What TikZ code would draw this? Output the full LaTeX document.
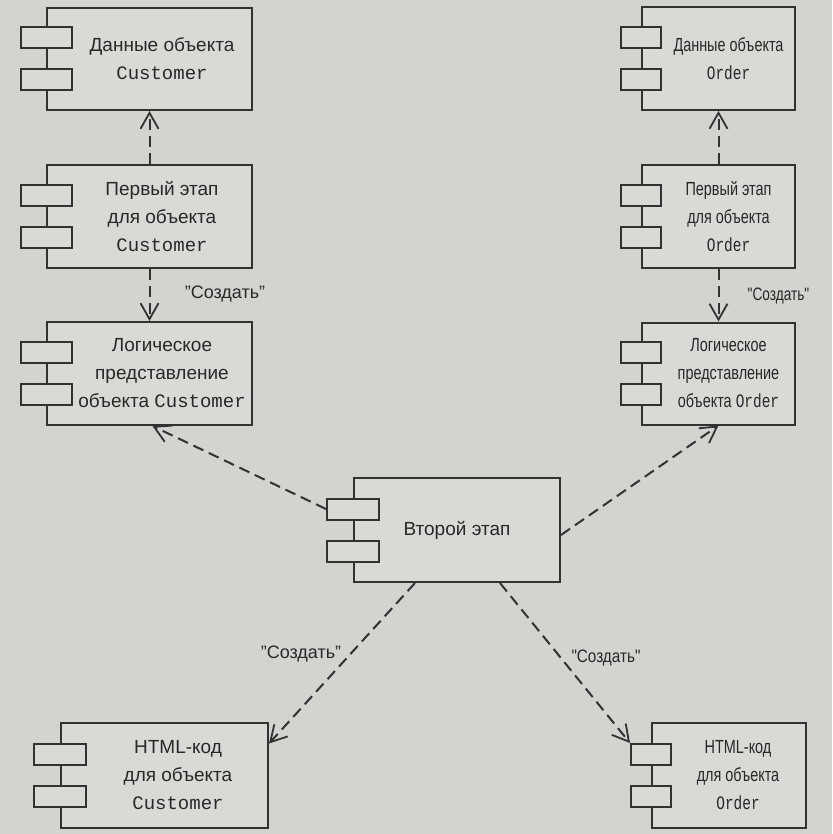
\documentclass[tikz,border=0pt]{standalone}
\usepackage{fontspec}
\setmainfont{Liberation Sans}
\newfontfamily\nsans[FakeStretch=0.76]{Liberation Sans}
\newfontfamily\msans[FakeStretch=0.85]{Liberation Sans}
\newfontfamily\cmono{Liberation Mono}
\newfontfamily\ncmono[FakeStretch=0.76]{Liberation Mono}
\usetikzlibrary{arrows.meta,calc}
\definecolor{paper}{RGB}{211,211,208}
\definecolor{boxfill}{RGB}{217,217,214}
\definecolor{ink}{RGB}{50,50,50}
\definecolor{txtc}{RGB}{40,40,40}
\begin{document}
\begin{tikzpicture}[x=1pt,y=-1pt,
 comp/.style={draw=ink, line width=2pt, fill=boxfill, rectangle, inner sep=0pt},
 tabbox/.style={draw=ink, line width=2pt, fill=boxfill, rectangle, inner sep=0pt, minimum height=21pt},
 txt/.style={align=center, text=txtc, font=\fontsize{19}{28}\selectfont, inner sep=0pt},
 ntxt/.style={align=center, text=txtc, font=\fontsize{19}{28}\nsans, inner sep=0pt},
 dep/.style={draw=ink, line width=2pt, dash pattern=on 11pt off 6pt, -{Straight Barb[length=16pt,width=18pt,line width=1.8pt]}},
 lbl/.style={text=txtc, font=\fontsize{18}{20}\selectfont, inner sep=1pt}]
\fill[paper] (0,0) rectangle (832,834);
\useasboundingbox (0,0) rectangle (832,834);

% components
\node[comp, minimum width=205pt, minimum height=102pt] (c1) at (149.5,59) {};
\node[comp, minimum width=205pt, minimum height=103pt] (c2) at (149.5,216.5) {};
\node[comp, minimum width=205pt, minimum height=103pt] (c3) at (149.5,373.5) {};
\node[comp, minimum width=153pt, minimum height=103pt] (c4) at (718.5,58.5) {};
\node[comp, minimum width=153pt, minimum height=103pt] (c5) at (718.5,216.5) {};
\node[comp, minimum width=153pt, minimum height=102pt] (c6) at (718.5,373.5) {};
\node[comp, minimum width=206pt, minimum height=104pt] (c7) at (457,530) {};
\node[comp, minimum width=207pt, minimum height=105pt] (c8) at (164.5,775.5) {};
\node[comp, minimum width=154pt, minimum height=105pt] (c9) at (729,775.5) {};

% tabs
\foreach \n/\w in {c1/51,c2/51,c3/51,c4/40,c5/40,c6/40,c7/52,c8/52,c9/40}{
  \node[tabbox, minimum width=\w pt] (\n-a) at ([yshift=21pt]\n.west) {};
  \node[tabbox, minimum width=\w pt] (\n-b) at ([yshift=-21pt]\n.west) {};
}

% texts
\node[txt] (t1) at ([xshift=12.5pt]c1.center) {Данные объекта\\{\cmono Customer}};
\node[txt] (t2) at ([xshift=12.5pt]c2.center) {Первый этап\\для объекта\\{\cmono Customer}};
\node[txt] (t3) at ([xshift=12.5pt]c3.center) {Логическое\\представление\\объекта {\cmono Customer}};
\node[ntxt] (t4) at ([xshift=10pt]c4.center) {Данные объекта\\{\ncmono Order}};
\node[ntxt] (t5) at ([xshift=10pt]c5.center) {Первый этап\\для объекта\\{\ncmono Order}};
\node[ntxt] (t6) at ([xshift=10pt]c6.center) {Логическое\\представление\\объекта {\ncmono Order}};
\node[txt] (t7) at (c7.center) {Второй этап};
\node[txt] (t8) at ([xshift=13.5pt]c8.center) {HTML-код\\для объекта\\{\cmono Customer}};
\node[ntxt] (t9) at ([xshift=9pt]c9.center) {HTML-код\\для объекта\\{\ncmono Order}};

% dependencies
\draw[dep] (c2.north) -- (c1.south);
\draw[dep] (c2.south) -- (c3.north);
\draw[dep] (c5.north) -- (c4.south);
\draw[dep] (c5.south) -- (c6.north);
\draw[dep] (c7-a.west) -- ([xshift=3pt]c3.south);
\draw[dep] ([yshift=-5pt]c7.east) -- (c6.south);
\draw[dep] ([xshift=-42pt]c7.south) -- (c8.17);
\draw[dep] ([xshift=43pt]c7.south) -- (c9-a.north west);

% labels
\node[lbl] (l1) at (225,294) {"Создать"};
\node[lbl, font=\fontsize{18}{20}\nsans] (l2) at (778.5,296) {"Создать"};
\node[lbl] (l3) at (301,654) {"Создать"};
\node[lbl, font=\fontsize{18}{20}\msans] (l4) at (606,658) {"Создать"};
\end{tikzpicture}
\end{document}
